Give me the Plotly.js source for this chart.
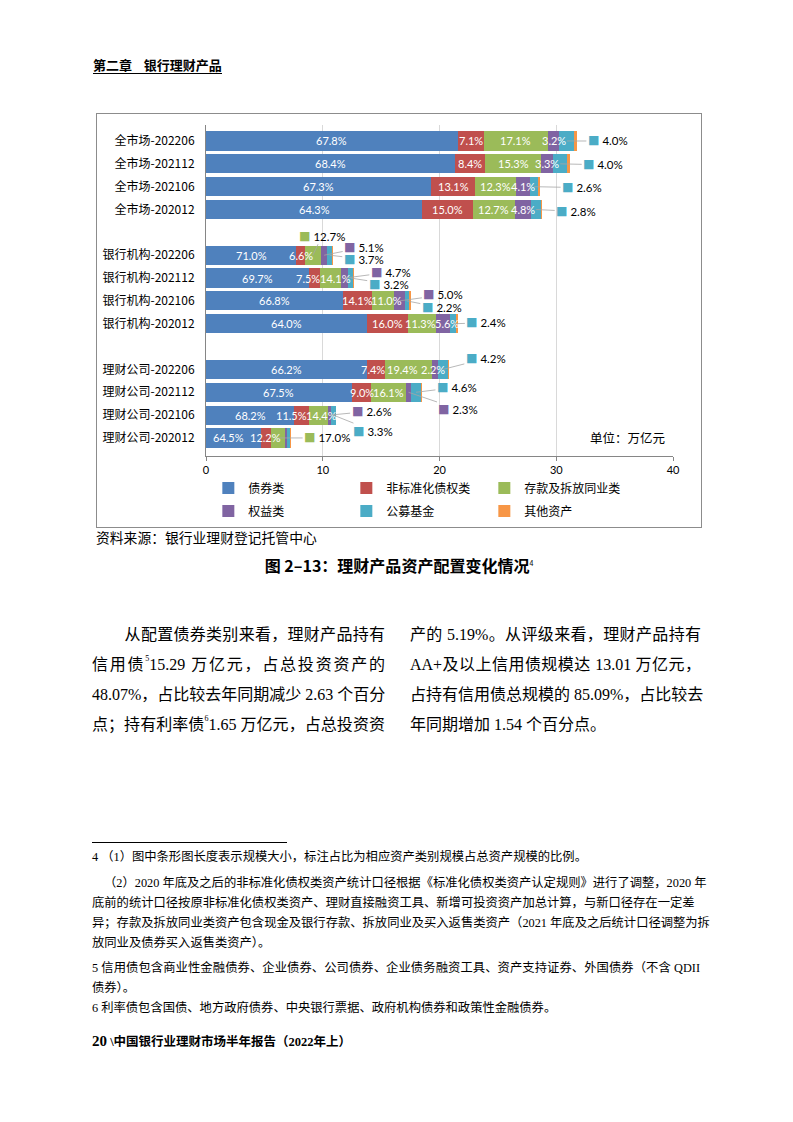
<!DOCTYPE html>
<html>
<head>
<meta charset="utf-8">
<script src="https://cdn.plot.ly/plotly-3.0.1.min.js"></script>
<style>
  html, body { margin: 0; padding: 0; background: #fff; }
  body { width: 793px; height: 1122px; position: relative; overflow: hidden;
         font-family: "Liberation Serif", "Noto Sans CJK SC", serif; color: #000; }
  .abs { position: absolute; white-space: nowrap; }
  .hdr { left: 93px; top: 56px; font-size: 13px; font-weight: bold; font-family: "Noto Sans CJK SC", sans-serif;
         border-bottom: 1px solid #000; line-height: 17px; }
  #chartbox { position: absolute; left: 96px; top: 113px; width: 604px; height: 413px; border: 1px solid #8c8c8c; }
  #chart { position: absolute; left: 97px; top: 114px; width: 604px; height: 440px; }
  .src { left: 96px; top: 529px; font-size: 13.8px; font-family: "Noto Sans CJK SC", sans-serif; line-height: 17px; }
  .cap { left: 0; width: 798px; text-align: center; top: 554px; font-size: 16px; font-weight: bold;
         font-family: "Noto Sans CJK SC", sans-serif; line-height: 22px; }
  .cap sup { font-size: 7px; vertical-align: top; position: relative; top: -2px; font-weight: normal; }
  .body { font-size: 16px; line-height: 30px; height: 30px; text-align: justify; text-align-last: justify; }
  .body sup { font-size: 8px; vertical-align: top; line-height: 8px; position: relative; top: 5px; }
  .left { left: 92px; width: 293px; }
  .right { left: 410px; width: 291px; }
  .fn { font-size: 12.3px; line-height: 20px; height: 20px; }
  .just { text-align: justify; text-align-last: justify; }
  .foot { left: 92px; top: 1031px; font-weight: bold; font-size: 12.5px; font-family: "Liberation Serif", "Noto Sans CJK SC", serif; line-height: 20px; }
</style>
</head>
<body>
<div class="abs hdr">第二章&nbsp;&nbsp;&nbsp;&nbsp;银行理财产品</div>

<div id="chartbox"></div>

<div class="abs src">资料来源：银行业理财登记托管中心</div>
<div class="abs cap">图 2–13：理财产品资产配置变化情况<sup>4</sup></div>

<div class="abs body left" style="top:620px;">　　从配置债券类别来看，理财产品持有</div>
<div class="abs body left" style="top:650px;">信用债<sup>5</sup>15.29 万亿元，占总投资资产的</div>
<div class="abs body left" style="top:680px;">48.07%，占比较去年同期减少 2.63 个百分</div>
<div class="abs body left" style="top:710px;">点；持有利率债<sup>6</sup>1.65 万亿元，占总投资资</div>
<div class="abs body right" style="top:620px;">产的 5.19%。从评级来看，理财产品持有</div>
<div class="abs body right" style="top:650px;">AA+及以上信用债规模达 13.01 万亿元，</div>
<div class="abs body right" style="top:680px;">占持有信用债总规模的 85.09%，占比较去</div>
<div class="abs body right" style="top:710px; text-align-last:left;">年同期增加 1.54 个百分点。</div>

<div class="abs" style="left:92px; top:842px; width:195px; height:0; border-top:1px solid #000;"></div>
<div class="abs fn" style="left:92px; top:847px;">4 （1）图中条形图长度表示规模大小，标注占比为相应资产类别规模占总资产规模的比例。</div>
<div class="abs fn just" style="left:104px; width:596px; top:873px;">（2）2020 年底及之后的非标准化债权类资产统计口径根据《标准化债权类资产认定规则》进行了调整，2020 年</div>
<div class="abs fn just" style="left:92px; width:594px; top:893px;">底前的统计口径按原非标准化债权类资产、理财直接融资工具、新增可投资资产加总计算，与新口径存在一定差</div>
<div class="abs fn just" style="left:92px; width:608px; top:913px;">异；存款及拆放同业类资产包含现金及银行存款、拆放同业及买入返售类资产（2021 年底及之后统计口径调整为拆</div>
<div class="abs fn" style="left:92px; top:933px;">放同业及债券买入返售类资产）。</div>
<div class="abs fn just" style="left:92px; width:608px; top:958px;">5 信用债包含商业性金融债券、企业债券、公司债券、企业债务融资工具、资产支持证券、外国债券（不含 QDII</div>
<div class="abs fn" style="left:92px; top:978px;">债券）。</div>
<div class="abs fn" style="left:92px; top:998px;">6 利率债包含国债、地方政府债券、中央银行票据、政府机构债券和政策性金融债券。</div>

<div class="abs foot"><span style="font-size:15px;">20</span> \中国银行业理财市场半年报告（2022年上）</div>

<div id="chart"></div>

<script>
// ---------------- data ----------------
const categories = ['全市场-202206','全市场-202112','全市场-202106','全市场-202012',
                    '银行机构-202206','银行机构-202112','银行机构-202106','银行机构-202012',
                    '理财公司-202206','理财公司-202112','理财公司-202106','理财公司-202012'];
// total scale of each bar (万亿元)
const totals = [31.8, 31.15, 28.65, 28.8, 10.9, 12.7, 17.55, 21.6, 20.85, 18.5, 11.1, 7.25];
const seriesNames = ['债券类','非标准化债权类','存款及拆放同业类','权益类','公募基金','其他资产'];
// share of each asset class in total (%)
const bondShare    = [67.8, 68.4, 67.3, 64.3, 71.0, 69.7, 66.8, 64.0, 66.2, 67.5, 68.2, 64.5];
const nonStdShare  = [7.1, 8.4, 13.1, 15.0, 6.6, 7.5, 14.1, 16.0, 7.4, 9.0, 11.5, 12.2];
const depositShare = [17.1, 15.3, 12.3, 12.7, 12.7, 14.1, 11.0, 11.3, 19.4, 16.1, 14.4, 17.0];
const equityShare  = [3.2, 3.3, 4.1, 4.8, 5.1, 4.7, 5.0, 5.6, 2.2, 2.3, 2.6, 2.3];
const fundShare    = [4.0, 4.0, 2.6, 2.8, 3.7, 3.2, 2.2, 2.4, 4.2, 4.6, 3.3, 3.2];
const otherShare   = [0.8, 0.6, 0.6, 0.4, 0.9, 0.8, 0.9, 0.7, 0.6, 0.5, 0.0, 0.8];
const xTicks = [0, 10, 20, 30, 40];
const unitLabel = '单位：万亿元';

// ---------------- label configuration ----------------
const shares = [bondShare, nonStdShare, depositShare, equityShare, fundShare, otherShare];
const colors = ['#4F81BD','#C0504D','#9BBB59','#8064A2','#4BACC6','#F79646'];
// which values are printed on their segment
const insideFlags = [
  [1,1,1,1,1,1,1,1,1,1,1,1],
  [1,1,1,1,1,1,1,1,1,1,1,1],
  [1,1,1,1,0,1,1,1,1,1,1,0],
  [1,1,1,1,0,0,0,1,1,0,0,0],
  [0,0,0,0,0,0,0,0,0,0,0,0],
  [0,0,0,0,0,0,0,0,0,0,0,0]
];
// small horizontal nudges (px) of on-segment labels, keyed "series,category"
const labelShift = {'1,5': -7, '2,5': 5, '2,6': 3, '1,10': -10, '2,10': 3, '2,7': -1, '3,7': 4,
                    '0,11': -5, '1,8': -3, '2,8': -6, '3,8': -2};
// labels placed outside with a leader line: series, category, pixel offset
const outsideLabels = [
  {s:4, i:0, ax:41, ay:0}, {s:4, i:1, ax:43, ay:1}, {s:4, i:2, ax:48, ay:1}, {s:4, i:3, ax:40, ay:2},
  {s:2, i:4, ax:9, ay:-19}, {s:3, i:4, ax:40, ay:-8}, {s:4, i:4, ax:34, ay:4},
  {s:3, i:5, ax:46, ay:-6}, {s:4, i:5, ax:38, ay:6},
  {s:3, i:6, ax:44, ay:-6}, {s:4, i:6, ax:35, ay:7},
  {s:4, i:7, ax:33, ay:-1},
  {s:4, i:8, ax:43, ay:-11},
  {s:4, i:9, ax:41, ay:-5}, {s:3, i:9, ax:50, ay:17},
  {s:3, i:10, ax:42, ay:-4}, {s:4, i:10, ax:40, ay:16},
  {s:2, i:11, ax:49, ay:0}
];

// axis order with blank spacer rows between groups
const axisOrder = categories.slice(0,4).concat([' '], categories.slice(4,8), ['  '], categories.slice(8,12));

const fmt = v => v.toFixed(1) + '%';
const numFont = 'Lato, "Noto Sans CJK SC", sans-serif';

const traces = shares.map((sh, k) => ({
  type: 'bar', orientation: 'h', name: seriesNames[k],
  y: categories,
  x: sh.map((v, i) => totals[i] * v / 100),
  marker: {color: colors[k], line: {width: 0}},
  legend: k < 3 ? 'legend' : 'legend2',
  hoverinfo: 'skip'
}));

function segMid(k, i) {
  let cum = 0;
  for (let j = 0; j < k; j++) cum += shares[j][i];
  return totals[i] * (cum + shares[k][i] / 2) / 100;
}

const annotations = [];
shares.forEach((sh, k) => sh.forEach((v, i) => {
  if (!insideFlags[k][i]) return;
  annotations.push({
    x: segMid(k, i), y: categories[i], xref: 'x', yref: 'y',
    xshift: labelShift[k + ',' + i] || 0,
    text: fmt(v), showarrow: false,
    font: {size: 11, color: '#ffffff', family: numFont}
  });
}));
outsideLabels.forEach(o => {
  annotations.push({
    x: segMid(o.s, o.i), y: categories[o.i], xref: 'x', yref: 'y',
    text: '<span style="color:' + colors[o.s] + '">■</span> ' + fmt(shares[o.s][o.i]),
    showarrow: true, arrowhead: 0, arrowwidth: 0.8, arrowcolor: '#a6a6a6',
    ax: o.ax, ay: o.ay, standoff: 0,
    font: {size: 11.5, color: '#000', family: numFont}
  });
});
annotations.push({
  xref: 'paper', yref: 'paper', x: 1, y: 0.057, xanchor: 'right', yanchor: 'middle', xshift: -6,
  text: unitLabel, showarrow: false,
  font: {size: 12.5, color: '#000', family: '"Noto Sans CJK SC", sans-serif'}
});

const legendCommon = {
  orientation: 'h', x: 0.005, xanchor: 'left', yanchor: 'middle',
  entrywidth: 93, entrywidthmode: 'pixels', traceorder: 'normal',
  font: {size: 12, color: '#000', family: '"Noto Sans CJK SC", sans-serif'},
  bgcolor: 'rgba(0,0,0,0)'
};

const layout = {
  width: 604, height: 440,
  margin: {l: 109, r: 28, t: 11, b: 98},
  paper_bgcolor: 'rgba(0,0,0,0)', plot_bgcolor: 'rgba(0,0,0,0)',
  barmode: 'stack', bargap: 0.16,
  showlegend: true,
  font: {family: numFont, size: 11, color: '#000'},
  xaxis: {
    range: [0, 40], tickvals: xTicks, ticktext: xTicks.map(String),
    showgrid: true, gridcolor: '#d9d9d9', gridwidth: 1,
    showline: true, linecolor: '#868686', linewidth: 1,
    ticks: 'outside', ticklen: 4, tickcolor: '#868686',
    zeroline: false, fixedrange: true,
    tickfont: {size: 11, color: '#000'}
  },
  yaxis: {
    type: 'category', categoryorder: 'array', categoryarray: axisOrder,
    range: [13.79, -0.7], autorange: false,
    showline: true, linecolor: '#868686', linewidth: 1,
    ticks: '', showgrid: false, zeroline: false, fixedrange: true,
    ticklabelstandoff: 8,
    tickfont: {size: 12, color: '#000', family: '"Noto Sans CJK SC", Lato, sans-serif'}
  },
  legend: Object.assign({}, legendCommon, {y: -0.0967}),
  legend2: Object.assign({}, legendCommon, {y: -0.166}),
  annotations: annotations
};

Plotly.newPlot('chart', traces, layout, {displayModeBar: false, staticPlot: true});
</script>
</body>
</html>
